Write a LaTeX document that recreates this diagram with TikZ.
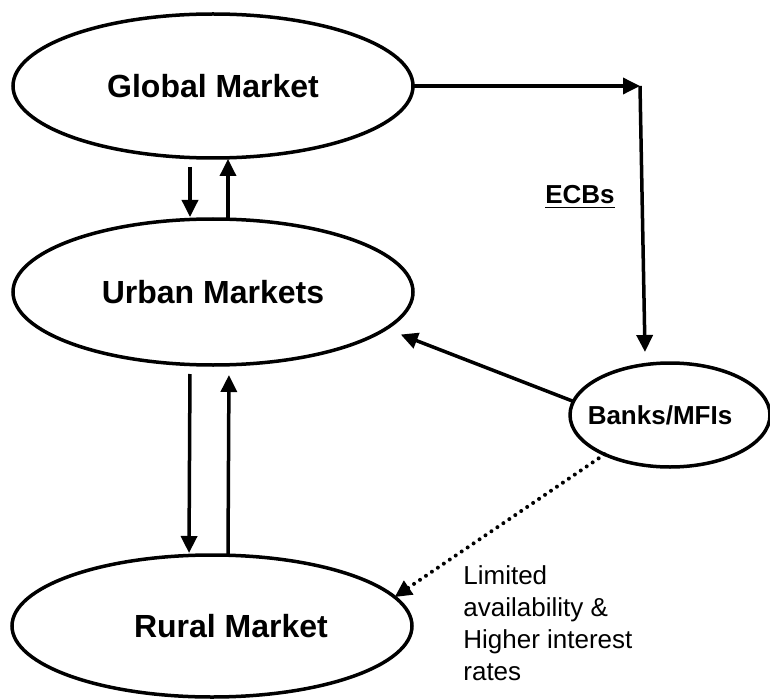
\documentclass[tikz,border=0pt]{standalone}
\usepackage{fontspec}
\setmainfont{Liberation Sans}
\usetikzlibrary{shapes.geometric,arrows.meta}
\begin{document}
\begin{tikzpicture}[x=0.5pt,y=-0.5pt,
  mkt/.style={draw,ellipse,line width=1.75pt,inner sep=0pt,outer sep=0pt,font=\fontsize{16}{19}\selectfont\bfseries},
  arr/.style={line width=1.75pt,-{Triangle[length=8.5pt,width=8pt]}},
  dotarr/.style={line width=2pt,line cap=round,dash pattern=on 0pt off 3.6pt,-{Triangle[length=8.5pt,width=8pt]}},
  lbl/.style={inner sep=0pt,font=\fontsize{13}{16}\selectfont}]
\useasboundingbox (0,0) rectangle (770,700);
\node[mkt,minimum width=200pt,minimum height=72pt] (glob) at (213,86) {Global Market};
\node[mkt,minimum width=200pt,minimum height=73pt] (urban) at (213,292) {Urban Markets};
\node[mkt,minimum width=200pt,minimum height=71pt,label={[xshift=9.5pt,font=\fontsize{16}{19}\selectfont\bfseries]center:Rural Market}] (rural) at (212,626) {};
\node[mkt,minimum width=100pt,minimum height=52pt,font=\fontsize{13}{16}\selectfont\bfseries,label={[xshift=-5pt,font=\fontsize{13}{16}\selectfont\bfseries]center:Banks/MFIs}] (banks) at (670,415) {};
\coordinate (corner) at (640,86);
\coordinate (ecbend) at (645,352);
\node[lbl,font=\fontsize{13}{16}\selectfont\bfseries] (ecb) at (580,197) {\underline{ECBs}};
\node[lbl,anchor=north west,align=left] (note) at (463,565) {Limited\\availability \&\\Higher interest\\rates};
% connectors
\draw[arr] (glob.east) -- (corner);
\draw[arr] (corner) -- (ecbend);
\draw[arr,shorten <=4.5pt,shorten >=1pt] ([xshift=-11.5pt]glob.south) -- ([xshift=-11.5pt]urban.north);
\draw[arr,shorten >=0.5pt] ([xshift=7.5pt]urban.north) -- ([xshift=7.5pt]glob.south);
\draw[arr,shorten <=4.5pt,shorten >=1pt] ([xshift=-11.5pt]urban.south) -- ([xshift=-11.5pt]rural.north);
\draw[arr,shorten >=5pt] ([xshift=8pt]rural.north) -- ([xshift=8pt]urban.south);
\draw[arr,shorten >=8pt] (banks.172.6) -- (urban.-12.4);
\draw[dotarr] (banks.211) -- (rural.9);
\end{tikzpicture}
\end{document}
